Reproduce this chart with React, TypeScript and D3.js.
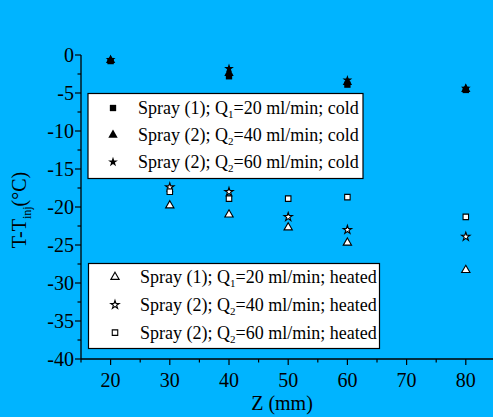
import { scaleLinear, symbol, symbolSquare, symbolTriangle, symbolStar, range } from "d3";

// cold series (z, value)
const coldSpray1Q20 = [
  { z: 20, v: -0.8 },
  { z: 40, v: -2.8 },
  { z: 60, v: -3.9 },
  { z: 80, v: -4.6 },
];
const coldSpray2Q40 = [
  { z: 20, v: -0.7 },
  { z: 40, v: -2.4 },
  { z: 60, v: -3.6 },
  { z: 80, v: -4.5 },
];
const coldSpray2Q60 = [
  { z: 20, v: -0.6 },
  { z: 40, v: -1.8 },
  { z: 60, v: -3.3 },
  { z: 80, v: -4.4 },
];

// heated series
const heatedSpray1Q20 = [
  { z: 30, v: -19.8 },
  { z: 40, v: -21.0 },
  { z: 50, v: -22.7 },
  { z: 60, v: -24.7 },
  { z: 80, v: -28.3 },
];
const heatedSpray2Q40 = [
  { z: 30, v: -17.4 },
  { z: 40, v: -18.0 },
  { z: 50, v: -21.3 },
  { z: 60, v: -23.0 },
  { z: 80, v: -23.9 },
];
const heatedSpray2Q60 = [
  { z: 30, v: -18.0 },
  { z: 40, v: -18.9 },
  { z: 50, v: -18.9 },
  { z: 60, v: -18.7 },
  { z: 80, v: -21.3 },
];

const xTicks = [20, 30, 40, 50, 60, 70, 80];
const yTicks = [0, -5, -10, -15, -20, -25, -30, -35, -40];

const coldLegend = [
  { spray: "1", q: "1", flow: "20", kind: "square" },
  { spray: "2", q: "2", flow: "40", kind: "triangle" },
  { spray: "2", q: "2", flow: "60", kind: "star" },
];
const heatedLegend = [
  { spray: "1", q: "1", flow: "20", kind: "triangle" },
  { spray: "2", q: "2", flow: "40", kind: "star" },
  { spray: "2", q: "2", flow: "60", kind: "square" },
];

const BG = "#00b4ff";
const FONT = "'Liberation Serif', 'Times New Roman', serif";

const shapes: Record<string, any> = {
  square: symbol(symbolSquare, 40),
  triangle: symbol(symbolTriangle, 38),
  star: symbol(symbolStar, 30),
};
const heatedShapes: Record<string, any> = {
  square: symbol(symbolSquare, 30),
  triangle: symbol(symbolTriangle, 30),
  star: symbol(symbolStar, 22),
};

export default function App() {
  const W = 493;
  const H = 417;
  const x = scaleLinear().domain([15, 85]).range([81, 81 + 70 * 5.92]);
  const y = scaleLinear().domain([-40, 0]).range([359, 55]);

  const xMinor = range(15, 86, 5).filter((t) => t % 10 !== 0);
  const yMinor = range(-37.5, 0, 5);

  const coldSeries = [
    { data: coldSpray1Q20, kind: "square" },
    { data: coldSpray2Q40, kind: "triangle" },
    { data: coldSpray2Q60, kind: "star" },
  ];
  const heatedSeries = [
    { data: heatedSpray1Q20, kind: "triangle" },
    { data: heatedSpray2Q40, kind: "star" },
    { data: heatedSpray2Q60, kind: "square" },
  ];

  return (
    <svg
      width={W}
      height={H}
      style={{ position: "absolute", left: 0, top: 0, background: BG, fontFamily: FONT }}
    >
      <rect x={0} y={0} width={W} height={H} fill={BG} />

      {/* axes */}
      <line x1={x(15)} x2={W + 5} y1={y(-40)} y2={y(-40)} stroke="#000" strokeWidth={1.3} />
      <line x1={x(15)} x2={x(15)} y1={y(0)} y2={y(-40)} stroke="#000" strokeWidth={1.3} />

      {yTicks.map((t) => (
        <g key={t}>
          <line x1={x(15) - 6} x2={x(15)} y1={y(t)} y2={y(t)} stroke="#000" strokeWidth={1.2} />
          <text x={x(15) - 7} y={y(t)} dy="0.35em" textAnchor="end" fontSize={20}>
            {t}
          </text>
        </g>
      ))}
      {yMinor.map((t) => (
        <line key={t} x1={x(15) - 3.5} x2={x(15)} y1={y(t)} y2={y(t)} stroke="#000" strokeWidth={1.2} />
      ))}
      {xTicks.map((t) => (
        <g key={t}>
          <line x1={x(t)} x2={x(t)} y1={y(-40)} y2={y(-40) + 6} stroke="#000" strokeWidth={1.2} />
          <text x={x(t)} y={387} textAnchor="middle" fontSize={20}>
            {t}
          </text>
        </g>
      ))}
      {xMinor.map((t) => (
        <line key={t} x1={x(t)} x2={x(t)} y1={y(-40)} y2={y(-40) + 3.5} stroke="#000" strokeWidth={1.2} />
      ))}

      <text x={282} y={410} textAnchor="middle" fontSize={20}>
        Z (mm)
      </text>
      <text transform="translate(26,210) rotate(-90)" textAnchor="middle" fontSize={20}>
        T-T
        <tspan fontSize={12} dy={5}>inj</tspan>
        <tspan dy={-5}>(°C)</tspan>
      </text>

      {/* cold points */}
      {coldSeries.map((s) =>
        s.data.map((p, i) => (
          <path
            key={s.kind + i}
            transform={`translate(${x(p.z)},${y(p.v)})`}
            d={shapes[s.kind]()}
            fill="#000"
          />
        ))
      )}

      {/* heated points */}
      {heatedSeries.map((s) =>
        s.data.map((p, i) => (
          <path
            key={s.kind + i}
            transform={`translate(${x(p.z)},${y(p.v)})`}
            d={heatedShapes[s.kind]()}
            fill="#fff"
            stroke="#000"
            strokeWidth={1.1}
          />
        ))
      )}

      {/* cold legend */}
      <rect x={88} y={93.5} width={275} height={85} fill="#fff" stroke="#000" strokeWidth={1.2} />
      {coldLegend.map((l, i) => {
        const cy = 108 + i * 27;
        return (
          <g key={i}>
            <path transform={`translate(113,${cy})`} d={shapes[l.kind]()} fill="#000" />
            <text x={138} y={cy} dy="0.35em" fontSize={18}>
              Spray ({l.spray}); Q<tspan fontSize={11} dy={4}>{l.q}</tspan>
              <tspan dy={-4}>={l.flow} ml/min; cold</tspan>
            </text>
          </g>
        );
      })}

      {/* heated legend */}
      <rect x={88.5} y={263.5} width={291} height={85} fill="#fff" stroke="#000" strokeWidth={1.2} />
      {heatedLegend.map((l, i) => {
        const cy = 277 + i * 27.8;
        return (
          <g key={i}>
            <path
              transform={`translate(115,${cy})`}
              d={heatedShapes[l.kind]()}
              fill="#fff"
              stroke="#000"
              strokeWidth={1.1}
            />
            <text x={140} y={cy} dy="0.35em" fontSize={18}>
              Spray ({l.spray}); Q<tspan fontSize={11} dy={4}>{l.q}</tspan>
              <tspan dy={-4}>={l.flow} ml/min; heated</tspan>
            </text>
          </g>
        );
      })}
    </svg>
  );
}
